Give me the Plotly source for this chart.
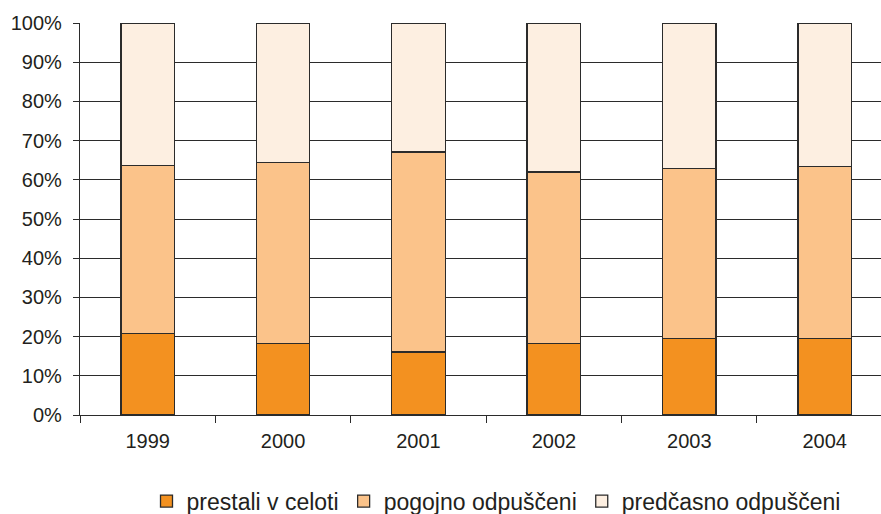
import plotly.graph_objects as go

years = ["1999", "2000", "2001", "2002", "2003", "2004"]
prestali = [20.8, 18.2, 16.1, 18.2, 19.6, 19.6]
pogojno = [42.9, 46.3, 51.0, 43.8, 43.3, 43.8]
predcasno = [36.3, 35.5, 32.9, 38.0, 37.1, 36.6]
names = ["prestali v celoti", "pogojno odpuščeni", "predčasno odpuščeni"]
colors = ["#F39120", "#FBC38A", "#FDEFE1"]

fig = go.Figure()
for name, vals, col in zip(names, [prestali, pogojno, predcasno], colors):
    fig.add_trace(go.Bar(
        x=years, y=vals, name=name,
        marker=dict(color=col, line=dict(color="#2b2b2b", width=1.3)),
        width=0.395,
    ))

font = dict(family="Liberation Sans, Arial, sans-serif", size=20, color="#231F20")
fig.update_layout(
    barmode="stack",
    width=881, height=514,
    margin=dict(l=80, r=0, t=23, b=99),
    paper_bgcolor="white", plot_bgcolor="white",
    font=font,
    showlegend=True,
    legend=dict(orientation="h", x=0.563, xanchor="center", xref="container",
                y=0.025, yanchor="middle", yref="container",
                font=dict(size=23), itemwidth=30, tracegroupgap=0, traceorder="normal"),
    xaxis=dict(type="category", range=[-0.5, 5.416],
               showline=True, linecolor="#2b2b2b", linewidth=1.3,
               ticks="outside", tickson="boundaries", ticklen=7, tickcolor="#2b2b2b",
               showgrid=False, tickfont=font, automargin=False, ticklabelstandoff=8),
    yaxis=dict(range=[0, 100], tickvals=[0, 10, 20, 30, 40, 50, 60, 70, 80, 90, 100],
               ticktext=[f"{v}%" for v in range(0, 101, 10)],
               showline=True, linecolor="#2b2b2b", linewidth=1.3,
               ticks="outside", ticklen=6, tickcolor="#2b2b2b",
               showgrid=True, gridcolor="#2b2b2b", gridwidth=1.3,
               zeroline=False, tickfont=font, automargin=False, ticklabelstandoff=7),
)
fig.write_html("out.html", config={"displayModeBar": False},
               post_script="document.body.style.margin='0';document.body.style.overflow='hidden';")
